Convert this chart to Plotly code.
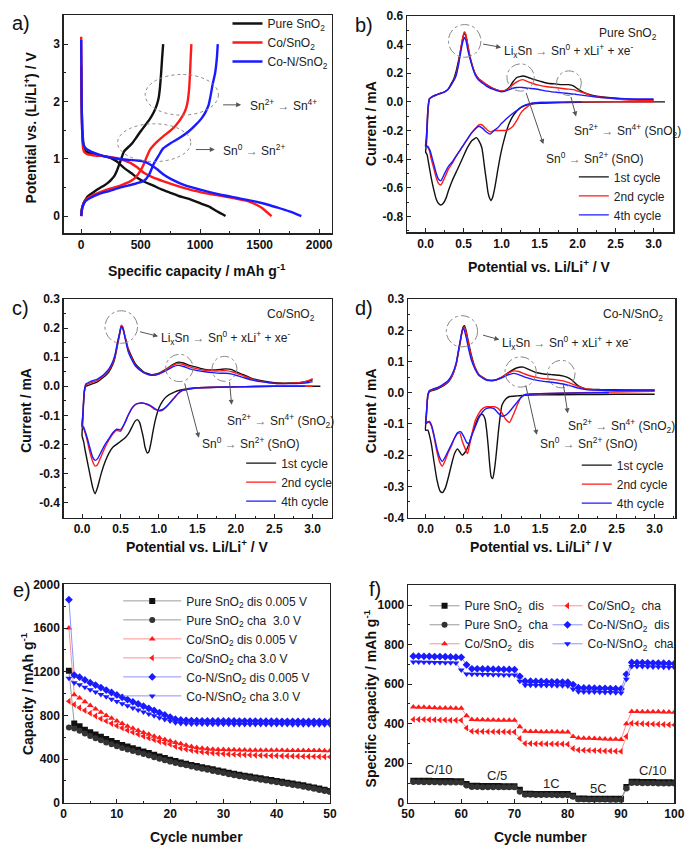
import plotly.graph_objects as go

W, H = 697, 857
FONT = "Arial, Liberation Sans, sans-serif"
BLK, RED, BLU = "#111111", "#ff1a1a", "#1a1aff"

# ---------------- panel a : charge/discharge profiles ----------------
a_names = ["Pure SnO<sub>2</sub>", "Co/SnO<sub>2</sub>", "Co-N/SnO<sub>2</sub>"]
a_pure_dis_cap = [0, 3, 10, 20, 33, 80, 150, 200, 250, 300, 360, 420, 470, 540, 607, 680, 743, 820, 907, 1016, 1080, 1126, 1180, 1213]
a_pure_dis_v = [2.62, 2.0, 1.5, 1.25, 1.14, 1.09, 1.06, 1.04, 1.01, 0.95, 0.84, 0.75, 0.67, 0.59, 0.53, 0.46, 0.41, 0.35, 0.30, 0.21, 0.16, 0.10, 0.04, 0.0]
a_pure_cha_cap = [0, 5, 19, 40, 60, 100, 142, 190, 224, 255, 279, 300, 320, 340, 361, 400, 429, 460, 497, 540, 579, 610, 634, 650, 661, 672, 680, 689]
a_pure_cha_v = [0.0, 0.12, 0.22, 0.30, 0.35, 0.41, 0.47, 0.53, 0.58, 0.64, 0.70, 0.79, 0.90, 1.02, 1.13, 1.21, 1.27, 1.36, 1.47, 1.59, 1.70, 1.81, 1.93, 2.05, 2.22, 2.5, 2.75, 3.0]
a_co_dis_cap = [0, 3, 8, 15, 25, 50, 100, 200, 300, 360, 420, 470, 530, 607, 700, 800, 900, 1016, 1150, 1290, 1400, 1460, 1520, 1560, 1600]
a_co_dis_v = [3.13, 2.2, 1.5, 1.2, 1.12, 1.08, 1.06, 1.04, 1.01, 0.97, 0.92, 0.85, 0.75, 0.67, 0.60, 0.53, 0.47, 0.41, 0.36, 0.31, 0.26, 0.21, 0.14, 0.07, 0.0]
a_co_cha_cap = [0, 10, 33, 70, 115, 200, 279, 350, 415, 460, 500, 525, 550, 579, 630, 689, 750, 798, 850, 880, 895, 907, 915, 920, 926]
a_co_cha_v = [0.0, 0.15, 0.27, 0.33, 0.38, 0.45, 0.50, 0.55, 0.61, 0.68, 0.80, 0.90, 1.03, 1.16, 1.28, 1.39, 1.49, 1.59, 1.74, 1.87, 2.0, 2.22, 2.5, 2.75, 3.0]
a_con_dis_cap = [0, 3, 8, 15, 25, 50, 87, 150, 200, 300, 400, 470, 530, 580, 630, 689, 760, 880, 1000, 1153, 1300, 1426, 1550, 1645, 1750, 1850]
a_con_dis_v = [3.07, 2.2, 1.5, 1.28, 1.22, 1.16, 1.12, 1.07, 1.04, 1.0, 0.98, 0.97, 0.95, 0.90, 0.83, 0.73, 0.64, 0.53, 0.46, 0.38, 0.32, 0.27, 0.21, 0.15, 0.08, 0.0]
a_con_cha_cap = [0, 10, 35, 80, 142, 240, 333, 430, 525, 570, 607, 650, 689, 750, 825, 900, 962, 1010, 1044, 1070, 1085, 1105, 1126, 1140, 1148]
a_con_cha_v = [0.0, 0.15, 0.26, 0.32, 0.38, 0.44, 0.50, 0.55, 0.61, 0.72, 0.90, 1.05, 1.18, 1.27, 1.36, 1.47, 1.59, 1.70, 1.81, 1.93, 2.07, 2.3, 2.5, 2.75, 3.0]

# ---------------- panel b : CV pure SnO2 ----------------
cv_names = ["1st cycle", "2nd cycle", "4th cycle"]
b1_v = [3.15, 2.5, 1.85, 1.5, 1.34, 1.25, 1.16, 1.1, 1.04, 0.99, 0.95, 0.91, 0.88, 0.86, 0.84, 0.82, 0.80, 0.78, 0.76, 0.74, 0.70, 0.67, 0.61, 0.55, 0.48, 0.42, 0.35, 0.30, 0.27, 0.23, 0.20, 0.17, 0.14, 0.11, 0.07, 0.04, 0.02, 0.0,
        0.01, 0.02, 0.03, 0.05, 0.1, 0.15, 0.2, 0.25, 0.3, 0.33, 0.37, 0.4, 0.43, 0.46, 0.49, 0.51, 0.53, 0.55, 0.57, 0.6, 0.65, 0.7, 0.75, 0.8, 0.9, 1.0, 1.05, 1.1, 1.15, 1.2, 1.28, 1.35, 1.4, 1.5, 1.6, 1.7, 1.8, 1.88, 1.95, 2.0, 2.1, 2.2, 2.4, 2.6, 2.8, 3.0]
b1_i = [0.0, 0.0, -0.005, -0.01, -0.02, -0.04, -0.09, -0.15, -0.25, -0.36, -0.475, -0.6, -0.67, -0.69, -0.67, -0.63, -0.55, -0.475, -0.39, -0.32, -0.27, -0.25, -0.27, -0.32, -0.4, -0.47, -0.55, -0.62, -0.67, -0.71, -0.72, -0.71, -0.68, -0.62, -0.52, -0.43, -0.37, -0.35,
        -0.3, -0.2, -0.08, 0.02, 0.04, 0.05, 0.06, 0.07, 0.09, 0.12, 0.16, 0.21, 0.28, 0.36, 0.45, 0.48, 0.46, 0.41, 0.35, 0.28, 0.2, 0.16, 0.14, 0.12, 0.09, 0.075, 0.08, 0.1, 0.14, 0.17, 0.18, 0.17, 0.16, 0.145, 0.13, 0.125, 0.12, 0.12, 0.11, 0.09, 0.06, 0.045, 0.03, 0.02, 0.015, 0.015]
b2_v = [3.0, 2.5, 2.0, 1.5, 1.4, 1.35, 1.3, 1.25, 1.2, 1.15, 1.1, 1.05, 1.0, 0.95, 0.9, 0.86, 0.82, 0.78, 0.74, 0.7, 0.65, 0.6, 0.55, 0.5, 0.45, 0.4, 0.35, 0.3, 0.25, 0.2, 0.17, 0.14, 0.1, 0.07, 0.05, 0.03, 0.0,
        0.01, 0.02, 0.03, 0.05, 0.1, 0.15, 0.2, 0.25, 0.3, 0.35, 0.4, 0.43, 0.46, 0.49, 0.51, 0.53, 0.56, 0.6, 0.65, 0.7, 0.75, 0.8, 0.9, 1.0, 1.05, 1.1, 1.15, 1.2, 1.28, 1.35, 1.4, 1.5, 1.6, 1.7, 1.85, 1.95, 2.0, 2.1, 2.2, 2.35, 2.5, 2.75, 3.0]
b2_i = [0.0, 0.0, 0.0, -0.005, -0.01, -0.03, -0.05, -0.08, -0.13, -0.17, -0.19, -0.2, -0.2, -0.2, -0.2, -0.21, -0.2, -0.18, -0.16, -0.16, -0.19, -0.22, -0.26, -0.3, -0.34, -0.38, -0.43, -0.47, -0.53, -0.58, -0.57, -0.53, -0.45, -0.39, -0.34, -0.32, -0.31,
        -0.25, -0.15, -0.05, 0.02, 0.04, 0.05, 0.06, 0.07, 0.09, 0.13, 0.19, 0.26, 0.36, 0.45, 0.49, 0.47, 0.38, 0.28, 0.2, 0.16, 0.14, 0.12, 0.09, 0.075, 0.08, 0.095, 0.12, 0.14, 0.155, 0.14, 0.13, 0.115, 0.105, 0.1, 0.09, 0.085, 0.075, 0.06, 0.04, 0.03, 0.02, 0.012, 0.01]
b4_v = [2.05, 1.8, 1.5, 1.4, 1.3, 1.25, 1.2, 1.15, 1.1, 1.05, 1.0, 0.95, 0.9, 0.85, 0.8, 0.75, 0.7, 0.65, 0.6, 0.55, 0.5, 0.45, 0.4, 0.35, 0.3, 0.25, 0.2, 0.17, 0.14, 0.1, 0.07, 0.05, 0.03, 0.0,
        0.01, 0.02, 0.03, 0.05, 0.1, 0.15, 0.2, 0.25, 0.3, 0.35, 0.4, 0.43, 0.46, 0.49, 0.51, 0.53, 0.56, 0.6, 0.65, 0.7, 0.75, 0.8, 0.9, 1.0, 1.05, 1.1, 1.15, 1.2, 1.28, 1.35, 1.45, 1.6, 1.75, 1.85, 2.0, 2.15, 2.3, 2.5, 2.75, 3.0]
b4_i = [0.0, -0.002, -0.005, -0.01, -0.025, -0.04, -0.06, -0.08, -0.1, -0.125, -0.15, -0.18, -0.2, -0.225, -0.21, -0.185, -0.17, -0.19, -0.22, -0.26, -0.3, -0.34, -0.38, -0.42, -0.45, -0.5, -0.55, -0.54, -0.5, -0.42, -0.36, -0.33, -0.31, -0.31,
        -0.25, -0.15, -0.05, 0.02, 0.04, 0.05, 0.06, 0.07, 0.09, 0.13, 0.18, 0.25, 0.34, 0.42, 0.45, 0.43, 0.35, 0.27, 0.19, 0.15, 0.13, 0.11, 0.085, 0.07, 0.075, 0.085, 0.095, 0.1, 0.1, 0.095, 0.09, 0.075, 0.065, 0.06, 0.05, 0.04, 0.03, 0.025, 0.02, 0.02]

# ---------------- panel c : CV Co/SnO2 ----------------
c1_v = [3.1, 2.5, 2.0, 1.5, 1.3, 1.2, 1.1, 1.05, 1.0, 0.95, 0.92, 0.9, 0.87, 0.85, 0.82, 0.8, 0.77, 0.75, 0.72, 0.69, 0.65, 0.6, 0.55, 0.5, 0.45, 0.4, 0.35, 0.3, 0.25, 0.2, 0.17, 0.14, 0.1, 0.07, 0.04, 0.02, 0.0,
        0.01, 0.02, 0.03, 0.05, 0.1, 0.15, 0.2, 0.25, 0.3, 0.35, 0.4, 0.43, 0.46, 0.49, 0.51, 0.53, 0.56, 0.6, 0.65, 0.7, 0.8, 0.9, 1.0, 1.1, 1.18, 1.25, 1.32, 1.4, 1.5, 1.6, 1.7, 1.8, 1.87, 1.95, 2.0, 2.1, 2.2, 2.35, 2.5, 2.7, 2.85, 2.95, 3.0]
c1_i = [0.0, 0.0, -0.002, -0.005, -0.012, -0.02, -0.035, -0.05, -0.075, -0.12, -0.16, -0.19, -0.225, -0.23, -0.21, -0.18, -0.145, -0.125, -0.115, -0.12, -0.14, -0.165, -0.18, -0.19, -0.2, -0.21, -0.23, -0.26, -0.3, -0.35, -0.37, -0.35, -0.3, -0.26, -0.22, -0.19, -0.17,
        -0.12, -0.06, -0.02, 0.0, 0.005, 0.01, 0.015, 0.025, 0.035, 0.05, 0.075, 0.1, 0.14, 0.18, 0.205, 0.2, 0.17, 0.13, 0.1, 0.075, 0.05, 0.04, 0.045, 0.06, 0.075, 0.083, 0.08, 0.072, 0.065, 0.058, 0.056, 0.058, 0.06, 0.057, 0.05, 0.04, 0.028, 0.018, 0.012, 0.011, 0.013, 0.018, 0.023]
c2_v = [3.0, 2.5, 2.0, 1.5, 1.3, 1.25, 1.2, 1.15, 1.1, 1.05, 1.0, 0.95, 0.9, 0.85, 0.8, 0.75, 0.7, 0.65, 0.6, 0.55, 0.5, 0.45, 0.4, 0.35, 0.3, 0.25, 0.2, 0.17, 0.14, 0.1, 0.07, 0.04, 0.02, 0.0,
        0.01, 0.02, 0.03, 0.05, 0.1, 0.15, 0.2, 0.25, 0.3, 0.35, 0.4, 0.43, 0.46, 0.49, 0.51, 0.53, 0.56, 0.6, 0.65, 0.7, 0.8, 0.9, 1.0, 1.1, 1.18, 1.25, 1.32, 1.4, 1.5, 1.6, 1.7, 1.8, 1.87, 1.95, 2.0, 2.1, 2.2, 2.35, 2.5, 2.7, 2.85, 2.95, 3.0]
c2_i = [0.0, 0.0, -0.002, -0.005, -0.015, -0.025, -0.04, -0.055, -0.07, -0.082, -0.085, -0.08, -0.07, -0.063, -0.058, -0.058, -0.062, -0.075, -0.1, -0.13, -0.155, -0.152, -0.165, -0.185, -0.21, -0.24, -0.27, -0.275, -0.26, -0.225, -0.19, -0.16, -0.145, -0.14,
        -0.1, -0.05, -0.015, 0.005, 0.01, 0.015, 0.02, 0.03, 0.04, 0.055, 0.08, 0.105, 0.145, 0.185, 0.21, 0.205, 0.17, 0.125, 0.095, 0.07, 0.048, 0.038, 0.043, 0.058, 0.072, 0.078, 0.075, 0.067, 0.06, 0.055, 0.053, 0.053, 0.054, 0.05, 0.045, 0.036, 0.025, 0.016, 0.01, 0.01, 0.013, 0.02, 0.026]
c4_v = [2.9, 2.5, 2.0, 1.5, 1.3, 1.25, 1.2, 1.15, 1.1, 1.05, 1.0, 0.95, 0.9, 0.85, 0.8, 0.75, 0.7, 0.65, 0.6, 0.55, 0.5, 0.45, 0.4, 0.35, 0.3, 0.25, 0.2, 0.17, 0.14, 0.1, 0.07, 0.04, 0.02, 0.0,
        0.01, 0.02, 0.03, 0.05, 0.1, 0.15, 0.2, 0.25, 0.3, 0.35, 0.4, 0.43, 0.46, 0.49, 0.51, 0.53, 0.56, 0.6, 0.65, 0.7, 0.8, 0.9, 1.0, 1.1, 1.18, 1.25, 1.32, 1.4, 1.5, 1.6, 1.7, 1.8, 1.87, 1.95, 2.0, 2.1, 2.2, 2.35, 2.5, 2.7, 2.85, 2.95, 3.0]
c4_i = [0.0, 0.0, -0.002, -0.005, -0.015, -0.025, -0.04, -0.055, -0.07, -0.08, -0.083, -0.078, -0.068, -0.062, -0.058, -0.058, -0.062, -0.075, -0.1, -0.13, -0.15, -0.148, -0.16, -0.18, -0.2, -0.225, -0.25, -0.255, -0.245, -0.21, -0.18, -0.155, -0.14, -0.135,
        -0.1, -0.05, -0.015, 0.008, 0.015, 0.02, 0.025, 0.033, 0.045, 0.06, 0.085, 0.11, 0.15, 0.185, 0.205, 0.2, 0.165, 0.12, 0.09, 0.068, 0.047, 0.038, 0.042, 0.055, 0.067, 0.072, 0.068, 0.06, 0.054, 0.05, 0.047, 0.045, 0.045, 0.042, 0.038, 0.03, 0.022, 0.015, 0.01, 0.009, 0.01, 0.013, 0.016]

# ---------------- panel d : CV Co-N/SnO2 ----------------
d1_v = [3.0, 2.5, 2.0, 1.5, 1.3, 1.2, 1.1, 1.05, 1.0, 0.98, 0.96, 0.94, 0.92, 0.9, 0.88, 0.86, 0.84, 0.82, 0.8, 0.78, 0.75, 0.72, 0.68, 0.64, 0.6, 0.56, 0.52, 0.48, 0.45, 0.42, 0.38, 0.34, 0.3, 0.26, 0.22, 0.19, 0.15, 0.11, 0.08, 0.05, 0.03, 0.0,
        0.01, 0.02, 0.03, 0.05, 0.1, 0.15, 0.2, 0.25, 0.3, 0.35, 0.4, 0.43, 0.46, 0.49, 0.51, 0.53, 0.56, 0.6, 0.65, 0.7, 0.8, 0.9, 1.0, 1.1, 1.2, 1.28, 1.35, 1.45, 1.55, 1.65, 1.75, 1.85, 1.92, 2.0, 2.1, 2.3, 2.6, 3.0]
d1_i = [-0.005, -0.005, -0.006, -0.007, -0.008, -0.01, -0.012, -0.02, -0.04, -0.07, -0.11, -0.16, -0.21, -0.25, -0.275, -0.27, -0.23, -0.17, -0.12, -0.085, -0.07, -0.07, -0.085, -0.11, -0.14, -0.17, -0.19, -0.2, -0.19, -0.18, -0.195, -0.23, -0.27, -0.305, -0.32, -0.315, -0.28, -0.22, -0.17, -0.135, -0.12, -0.12,
        -0.08, -0.04, -0.01, 0.003, 0.008, 0.012, 0.018, 0.025, 0.035, 0.055, 0.09, 0.13, 0.17, 0.21, 0.215, 0.2, 0.165, 0.12, 0.08, 0.058, 0.042, 0.04, 0.05, 0.067, 0.08, 0.082, 0.075, 0.065, 0.06, 0.058, 0.056, 0.05, 0.04, 0.022, 0.012, 0.01, 0.009, 0.008]
d2_v = [3.0, 2.5, 2.0, 1.5, 1.3, 1.25, 1.2, 1.15, 1.1, 1.05, 1.0, 0.95, 0.9, 0.85, 0.8, 0.75, 0.7, 0.65, 0.6, 0.57, 0.55, 0.52, 0.48, 0.45, 0.42, 0.38, 0.34, 0.3, 0.26, 0.22, 0.19, 0.15, 0.11, 0.08, 0.05, 0.03, 0.0,
        0.01, 0.02, 0.03, 0.05, 0.1, 0.15, 0.2, 0.25, 0.3, 0.35, 0.4, 0.43, 0.46, 0.49, 0.51, 0.53, 0.56, 0.6, 0.65, 0.7, 0.8, 0.9, 1.0, 1.08, 1.15, 1.22, 1.3, 1.4, 1.5, 1.6, 1.7, 1.8, 1.9, 2.0, 2.1, 2.3, 2.6, 3.0]
d2_i = [0.005, 0.002, 0.0, -0.003, -0.006, -0.015, -0.04, -0.07, -0.095, -0.085, -0.065, -0.05, -0.045, -0.045, -0.045, -0.05, -0.065, -0.09, -0.14, -0.175, -0.195, -0.18, -0.155, -0.13, -0.13, -0.145, -0.17, -0.19, -0.215, -0.235, -0.225, -0.19, -0.14, -0.11, -0.095, -0.095, -0.1,
        -0.07, -0.035, -0.008, 0.005, 0.01, 0.014, 0.02, 0.027, 0.037, 0.055, 0.09, 0.13, 0.17, 0.205, 0.21, 0.195, 0.16, 0.115, 0.08, 0.058, 0.042, 0.04, 0.05, 0.062, 0.07, 0.068, 0.06, 0.052, 0.047, 0.044, 0.042, 0.038, 0.03, 0.02, 0.012, 0.008, 0.006, 0.006]
d4_v = [2.4, 2.0, 1.5, 1.3, 1.25, 1.2, 1.15, 1.1, 1.05, 1.0, 0.95, 0.9, 0.85, 0.8, 0.75, 0.7, 0.65, 0.6, 0.57, 0.54, 0.5, 0.46, 0.42, 0.38, 0.34, 0.3, 0.26, 0.22, 0.19, 0.15, 0.11, 0.08, 0.05, 0.03, 0.0,
        0.01, 0.02, 0.03, 0.05, 0.1, 0.15, 0.2, 0.25, 0.3, 0.35, 0.4, 0.43, 0.46, 0.48, 0.5, 0.53, 0.56, 0.6, 0.65, 0.7, 0.8, 0.9, 1.0, 1.08, 1.15, 1.22, 1.3, 1.4, 1.5, 1.6, 1.7, 1.8, 1.9, 2.0, 2.1, 2.3, 2.6, 3.0]
d4_i = [0.0, -0.001, -0.003, -0.006, -0.015, -0.03, -0.045, -0.06, -0.072, -0.075, -0.065, -0.052, -0.048, -0.05, -0.06, -0.08, -0.11, -0.14, -0.162, -0.16, -0.14, -0.125, -0.128, -0.145, -0.165, -0.185, -0.205, -0.22, -0.21, -0.18, -0.135, -0.105, -0.092, -0.093, -0.1,
        -0.07, -0.035, -0.008, 0.007, 0.012, 0.016, 0.022, 0.03, 0.04, 0.06, 0.095, 0.135, 0.175, 0.2, 0.205, 0.18, 0.145, 0.105, 0.075, 0.055, 0.04, 0.04, 0.048, 0.057, 0.062, 0.058, 0.05, 0.043, 0.038, 0.035, 0.032, 0.028, 0.022, 0.015, 0.01, 0.008, 0.008, 0.009]

# ---------------- panel e : cycling ----------------
e_cycles = list(range(1, 51))
e_names = ["Pure SnO<sub>2</sub> dis 0.005 V", "Pure SnO<sub>2</sub> cha  3.0 V", "Co/SnO<sub>2</sub> dis 0.005 V",
           "Co/SnO<sub>2</sub> cha 3.0 V", "Co-N/SnO<sub>2</sub> dis 0.005 V", "Co-N/SnO<sub>2</sub> cha 3.0 V"]
e_pure_dis = [1210, 725, 700, 670, 645, 625, 605, 585, 565, 548, 530, 515, 500, 485, 470, 455, 440, 425, 410, 395, 382, 370, 358, 346, 336, 326, 316, 306, 296, 286, 276, 266, 257, 248, 240, 232, 224, 216, 208, 200, 192, 184, 176, 168, 160, 150, 140, 130, 120, 108]
e_pure_cha = [690, 680, 660, 635, 612, 592, 572, 553, 535, 518, 502, 488, 474, 460, 446, 432, 418, 404, 390, 377, 365, 354, 343, 332, 322, 312, 302, 292, 282, 272, 262, 253, 244, 235, 227, 219, 211, 203, 195, 187, 179, 171, 163, 155, 147, 138, 128, 118, 108, 98]
e_co_dis = [1600, 990, 960, 925, 890, 860, 830, 800, 775, 750, 725, 702, 682, 662, 644, 627, 610, 595, 580, 566, 552, 540, 528, 516, 506, 499, 494, 491, 489, 487, 486, 485, 484, 483, 482, 482, 481, 481, 480, 480, 480, 479, 479, 479, 478, 478, 478, 478, 477, 477]
e_co_cha = [930, 900, 870, 845, 820, 795, 770, 748, 726, 705, 685, 665, 645, 627, 610, 593, 577, 562, 548, 535, 515, 500, 490, 480, 472, 465, 460, 455, 451, 448, 445, 443, 441, 439, 437, 435, 434, 432, 431, 430, 429, 428, 427, 426, 425, 424, 423, 422, 421, 420]
e_con_dis = [1860, 1170, 1150, 1125, 1100, 1078, 1055, 1032, 1010, 988, 966, 945, 925, 905, 885, 865, 845, 825, 805, 785, 765, 758, 755, 753, 752, 751, 750, 750, 750, 749, 749, 749, 748, 748, 748, 748, 747, 747, 747, 747, 746, 746, 746, 746, 745, 745, 745, 745, 744, 744]
e_con_cha = [1140, 1100, 1080, 1058, 1036, 1014, 992, 970, 948, 928, 908, 888, 868, 850, 832, 814, 796, 778, 762, 748, 732, 725, 723, 722, 721, 721, 720, 720, 719, 719, 719, 718, 718, 718, 717, 717, 717, 717, 716, 716, 716, 716, 715, 715, 715, 715, 714, 714, 714, 714]

# ---------------- panel f : rate capability ----------------
f_cycles = list(range(51, 101))
f_names = ["Pure SnO<sub>2</sub>  dis", "Pure SnO<sub>2</sub>  cha", "Co/SnO<sub>2</sub>  dis",
           "Co/SnO<sub>2</sub>  cha", "Co-N/SnO<sub>2</sub>  dis", "Co-N/SnO<sub>2</sub>  cha"]
f_pure_dis = [112, 112, 111, 111, 110, 110, 110, 110, 109, 109, 95, 86, 86, 85, 85, 85, 85, 84, 84, 84, 66, 46, 46, 45, 45, 45, 45, 44, 44, 44, 35, 22, 22, 21, 21, 21, 20, 20, 20, 20, 80, 106, 106, 105, 105, 105, 104, 104, 104, 103]
f_pure_cha = [105, 105, 104, 104, 104, 103, 103, 103, 102, 102, 88, 80, 80, 79, 79, 79, 79, 78, 78, 78, 56, 40, 40, 39, 39, 39, 39, 38, 38, 38, 30, 16, 16, 15, 15, 15, 15, 14, 14, 14, 72, 100, 100, 99, 99, 99, 98, 98, 98, 97]
f_co_dis = [485, 484, 483, 482, 481, 480, 480, 479, 478, 478, 440, 421, 420, 420, 419, 419, 418, 418, 417, 417, 385, 362, 361, 361, 360, 360, 359, 359, 358, 358, 335, 328, 327, 326, 325, 324, 323, 322, 321, 320, 400, 462, 462, 461, 461, 460, 460, 459, 459, 458]
f_co_cha = [422, 421, 421, 420, 420, 419, 419, 418, 418, 417, 378, 362, 361, 361, 360, 360, 359, 359, 358, 358, 325, 300, 300, 299, 299, 298, 298, 297, 297, 296, 275, 267, 266, 265, 264, 263, 262, 262, 261, 260, 335, 402, 401, 400, 399, 398, 397, 396, 395, 394]
f_con_dis = [742, 742, 741, 741, 740, 740, 739, 738, 737, 736, 698, 678, 678, 677, 677, 676, 676, 675, 675, 674, 640, 615, 615, 614, 614, 613, 612, 612, 611, 610, 598, 582, 581, 581, 580, 579, 579, 578, 577, 576, 650, 710, 709, 709, 708, 707, 707, 706, 705, 704]
f_con_cha = [712, 712, 711, 711, 710, 710, 709, 708, 707, 672, 652, 650, 650, 649, 649, 648, 648, 647, 647, 646, 615, 595, 595, 594, 594, 593, 593, 592, 592, 591, 575, 562, 561, 560, 560, 559, 558, 558, 557, 556, 625, 690, 689, 689, 688, 687, 687, 686, 685, 684]
f_rate_labels = ["C/10", "C/5", "1C", "5C", "C/10"]
f_rate_x = [55.8, 66.8, 76.9, 85.8, 95.9]
f_rate_y = [168, 140, 98, 72, 165]

# tick labels
b_yticks = [-0.8, -0.6, -0.4, -0.2, 0.0, 0.2, 0.4, 0.6]
b_yticktext = ["-0.8", "-0.6", "-0.4", "-0.2", "0.0", "0.2", "0.4", "0.6"]
cd_yticks = [-0.4, -0.3, -0.2, -0.1, 0.0, 0.1, 0.2, 0.3]
cd_yticktext = ["-0.4", "-0.3", "-0.2", "-0.1", "0.0", "0.1", "0.2", "0.3"]
cv_xticks = [0.0, 0.5, 1.0, 1.5, 2.0, 2.5, 3.0]
cv_xticktext = ["0.0", "0.5", "1.0", "1.5", "2.0", "2.5", "3.0"]

# ======================================================================
def dx(p):
    return p / W


def dy(p):
    return 1 - p / H


fig = go.Figure()

# panel a
for (cx, vy, cx2, vy2, col, nm) in [
    (a_pure_dis_cap, a_pure_dis_v, a_pure_cha_cap, a_pure_cha_v, BLK, a_names[0]),
    (a_co_dis_cap, a_co_dis_v, a_co_cha_cap, a_co_cha_v, RED, a_names[1]),
    (a_con_dis_cap, a_con_dis_v, a_con_cha_cap, a_con_cha_v, BLU, a_names[2]),
]:
    fig.add_trace(go.Scatter(x=cx, y=vy, mode="lines", line=dict(color=col, width=2.4, shape="spline", smoothing=0.6),
                             name=nm, legend="legend", xaxis="x", yaxis="y"))
    fig.add_trace(go.Scatter(x=cx2, y=vy2, mode="lines", line=dict(color=col, width=2.4, shape="spline", smoothing=0.6),
                             showlegend=False, xaxis="x", yaxis="y"))

# CV panels
for (xa, ya, leg, series) in [
    ("x2", "y2", "legend2", [(b1_v, b1_i), (b2_v, b2_i), (b4_v, b4_i)]),
    ("x3", "y3", "legend3", [(c1_v, c1_i), (c2_v, c2_i), (c4_v, c4_i)]),
    ("x4", "y4", "legend4", [(d1_v, d1_i), (d2_v, d2_i), (d4_v, d4_i)]),
]:
    for (vv, ii), col, nm in zip(series, [BLK, RED, BLU], cv_names):
        fig.add_trace(go.Scatter(x=vv, y=ii, mode="lines", line=dict(color=col, width=1.4, shape="spline", smoothing=0.5),
                                 name=nm, legend=leg, xaxis=xa, yaxis=ya))

# marker styles for e & f
styles = [
    dict(symbol="square", color="#111111", lc="#9a9a9a"),
    dict(symbol="circle", color="#333333", lc="#9a9a9a"),
    dict(symbol="triangle-up", color=RED, lc="#ff9090"),
    dict(symbol="triangle-left", color=RED, lc="#ff9090"),
    dict(symbol="diamond", color=BLU, lc="#9090ff"),
    dict(symbol="triangle-down", color=BLU, lc="#9090ff"),
]
for vals, st, nm in zip([e_pure_dis, e_pure_cha, e_co_dis, e_co_cha, e_con_dis, e_con_cha], styles, e_names):
    fig.add_trace(go.Scatter(x=e_cycles, y=vals, mode="lines+markers", name=nm, legend="legend5",
                             line=dict(color=st["lc"], width=1),
                             marker=dict(symbol=st["symbol"], color=st["color"], size=6, line=dict(width=0)),
                             xaxis="x5", yaxis="y5"))
for k, (vals, st, nm) in enumerate(zip([f_pure_dis, f_pure_cha, f_co_dis, f_co_cha, f_con_dis, f_con_cha], styles, f_names)):
    fig.add_trace(go.Scatter(x=f_cycles, y=vals, mode="lines+markers", name=nm,
                             legend="legend6" if k in (0, 1, 2) else "legend7",
                             line=dict(color=st["lc"], width=1),
                             marker=dict(symbol=st["symbol"], color=st["color"], size=6, line=dict(width=0)),
                             xaxis="x6", yaxis="y6"))

TICKFONT = dict(family=FONT, size=12, color="#111", weight="bold")


def ax(domain, rng, anchor, **kw):
    d = dict(domain=domain, range=rng, anchor=anchor, showline=True, linecolor="#222", linewidth=1.3, mirror=True,
             ticks="inside", ticklen=4, tickwidth=1, tickcolor="#222", showgrid=False, zeroline=False,
             tickfont=TICKFONT, layer="above traces")
    d.update(kw)
    return d


def minor(dt, t0=0):
    return dict(ticks="inside", ticklen=2, tickcolor="#222", dtick=dt, tick0=t0, showgrid=False)


layout = dict(
    width=W, height=H, margin=dict(l=0, r=0, t=0, b=0),
    paper_bgcolor="white", plot_bgcolor="white",
    font=dict(family=FONT, size=12, color="#111"),
    xaxis=ax([dx(58), dx(333)], [-148, 2107], "y", dtick=500, minor=minor(250)),
    yaxis=ax([dy(230), dy(8)], [-0.30, 3.51], "x", dtick=1, minor=minor(0.5)),
    xaxis2=ax([dx(410), dx(683)], [-0.245, 3.26], "y2", tickvals=cv_xticks, ticktext=cv_xticktext, minor=minor(0.25)),
    yaxis2=ax([dy(229), dy(9)], [-0.91, 0.6], "x2", tickvals=b_yticks, ticktext=b_yticktext, minor=minor(0.1)),
    xaxis3=ax([dx(58), dx(333)], [-0.24, 3.25], "y3", tickvals=cv_xticks, ticktext=cv_xticktext, minor=minor(0.25)),
    yaxis3=ax([dy(519), dy(297)], [-0.452, 0.3], "x3", tickvals=cd_yticks, ticktext=cd_yticktext, minor=minor(0.05)),
    xaxis4=ax([dx(411), dx(685)], [-0.23, 3.27], "y4", tickvals=cv_xticks, ticktext=cv_xticktext, minor=minor(0.25)),
    yaxis4=ax([dy(519), dy(297)], [-0.4, 0.3], "x4", tickvals=cd_yticks, ticktext=cd_yticktext, minor=minor(0.05)),
    xaxis5=ax([dx(58), dx(331)], [0, 50], "y5", dtick=10, minor=minor(5)),
    yaxis5=ax([dy(809), dy(587)], [0, 2000], "x5", dtick=400, minor=minor(200)),
    xaxis6=ax([dx(411), dx(684)], [50, 100], "y6", dtick=10, minor=minor(5)),
    yaxis6=ax([dy(809), dy(588)], [0, 1100], "x6", dtick=200, minor=minor(100)),
    showlegend=True,
)

LEGFONT = dict(family=FONT, size=12, color="#222")


def leg(xp, yp, itemwidth=30):
    return dict(x=dx(xp), y=dy(yp), xanchor="left", yanchor="top", bgcolor="rgba(0,0,0,0)", borderwidth=0,
                font=LEGFONT, tracegroupgap=0, itemwidth=itemwidth, itemclick=False, itemdoubleclick=False)


layout["legend"] = leg(226, 2)
layout["legend2"] = leg(581, 158)
layout["legend3"] = leg(240, 449)
layout["legend4"] = leg(584, 451)
layout["legend5"] = leg(114, 589, itemwidth=58)
layout["legend6"] = leg(428, 594)
layout["legend7"] = leg(554, 594)
fig.update_layout(**layout)

shapes = []
annotations = []
GRAY = "#888888"
ARR = "#555555"


def ellipse(xr, yr, x0, x1, y0, y1, dash):
    shapes.append(dict(type="circle", xref=xr, yref=yr, x0=x0, x1=x1, y0=y0, y1=y1,
                       line=dict(color=GRAY, width=1, dash=dash), layer="above"))


def arrow(xr, yr, tx, ty, hx, hy):
    annotations.append(dict(xref=xr, yref=yr, axref=xr, ayref=yr, x=hx, y=hy, ax=tx, ay=ty, text="",
                            showarrow=True, arrowhead=2, arrowsize=1, arrowwidth=1, arrowcolor=ARR))


def label(xr, yr, x, y, text, xanchor="left", size=12):
    annotations.append(dict(xref=xr, yref=yr, x=x, y=y, text=text, showarrow=False, xanchor=xanchor,
                            yanchor="middle", font=dict(family=FONT, size=size, color="#222")))


AR = " <span style='color:#777'>→</span> "
# panel a annotations
ellipse("x", "y", 538, 1153, 1.76, 2.47, "dot")
ellipse("x", "y", 306, 921, 0.95, 1.61, "dot")
arrow("x", "y", 1180, 1.94, 1344, 1.94)
arrow("x", "y", 951, 1.16, 1123, 1.16)
label("x", "y", 1400, 1.94, "Sn<sup>2+</sup>" + AR + "Sn<sup>4+</sup>")
label("x", "y", 1175, 1.16, "Sn<sup>0</sup>" + AR + "Sn<sup>2+</sup>")

# panel b annotations
ellipse("x2", "y2", 0.30, 0.728, 0.311, 0.539, "dashdot")
ellipse("x2", "y2", 1.07, 1.43, 0.075, 0.265, "dashdot")
ellipse("x2", "y2", 1.723, 2.049, 0.044, 0.216, "dashdot")
arrow("x2", "y2", 0.737, 0.405, 0.994, 0.38)
arrow("x2", "y2", 1.907, 0.045, 1.98, -0.102)
arrow("x2", "y2", 1.316, 0.073, 1.55, -0.295)
label("x2", "y2", 1.0, 0.355, "Li<sub>x</sub>Sn" + AR + "Sn<sup>0</sup> + xLi<sup>+</sup> + xe<sup>-</sup>")
label("x2", "y2", 1.92, -0.2, "Sn<sup>2+</sup>" + AR + "Sn<sup>4+</sup> (SnO<sub>2</sub>)")
label("x2", "y2", 1.56, -0.39, "Sn<sup>0</sup>" + AR + "Sn<sup>2+</sup> (SnO)")
label("x2", "y2", 3.07, 0.47, "Pure SnO<sub>2</sub>", xanchor="right")

# panel c annotations
ellipse("x3", "y3", 0.298, 0.722, 0.148, 0.26, "dashdot")
ellipse("x3", "y3", 1.088, 1.444, 0.016, 0.11, "dashdot")
ellipse("x3", "y3", 1.691, 2.015, 0.017, 0.103, "dashdot")
arrow("x3", "y3", 0.735, 0.189, 0.99, 0.172)
arrow("x3", "y3", 1.917, 0.02, 1.946, -0.064)
arrow("x3", "y3", 1.33, 0.015, 1.52, -0.177)
label("x3", "y3", 1.0, 0.167, "Li<sub>x</sub>Sn" + AR + "Sn<sup>0</sup> + xLi<sup>+</sup> + xe<sup>-</sup>")
label("x3", "y3", 1.86, -0.121, "Sn<sup>2+</sup>" + AR + "Sn<sup>4+</sup> (SnO<sub>2</sub>)")
label("x3", "y3", 1.53, -0.194, "Sn<sup>0</sup>" + AR + "Sn<sup>2+</sup> (SnO)")
label("x3", "y3", 3.05, 0.246, "Co/SnO<sub>2</sub>", xanchor="right")

# panel d annotations
ellipse("x4", "y4", 0.272, 0.682, 0.147, 0.247, "dashdot")
ellipse("x4", "y4", 1.04, 1.45, 0.018, 0.115, "dashdot")
ellipse("x4", "y4", 1.597, 1.957, 0.016, 0.104, "dashdot")
arrow("x4", "y4", 0.733, 0.186, 0.967, 0.17)
arrow("x4", "y4", 1.8, 0.034, 1.862, -0.066)
arrow("x4", "y4", 1.308, 0.028, 1.457, -0.135)
label("x4", "y4", 0.98, 0.16, "Li<sub>x</sub>Sn" + AR + "Sn<sup>0</sup> + xLi<sup>+</sup> + xe<sup>-</sup>")
label("x4", "y4", 1.84, -0.108, "Sn<sup>2+</sup>" + AR + "Sn<sup>4+</sup> (SnO<sub>2</sub>)")
label("x4", "y4", 1.47, -0.161, "Sn<sup>0</sup>" + AR + "Sn<sup>2+</sup> (SnO)")
label("x4", "y4", 3.14, 0.249, "Co-N/SnO<sub>2</sub>", xanchor="right")

# panel f rate labels
for t, xx, yy in zip(f_rate_labels, f_rate_x, f_rate_y):
    annotations.append(dict(xref="x6", yref="y6", x=xx, y=yy, text=t, showarrow=False,
                            font=dict(family=FONT, size=13, color="#222")))

# axis titles (paper coords)
TF = dict(family=FONT, size=14, color="#111", weight="bold")


def ptxt(x, y, text, angle=0, size=None, bold=True):
    f = dict(TF)
    if size:
        f["size"] = size
    if not bold:
        f["weight"] = "normal"
    annotations.append(dict(xref="paper", yref="paper", x=dx(x), y=dy(y), text=text, showarrow=False,
                            textangle=angle, font=f, xanchor="center", yanchor="middle"))


ptxt(195, 267, "Specific capacity / mAh g<sup>-1</sup>")
ptxt(24, 122, "Potential vs. (Li/Li<sup>+</sup>) / V", angle=-90)
ptxt(546, 263, "Potential vs. Li/Li<sup>+</sup> / V")
ptxt(373, 118, "Current / mA", angle=-90)
ptxt(195, 548, "Potential vs. Li/Li<sup>+</sup> / V")
ptxt(20, 410, "Current / mA", angle=-90)
ptxt(548, 548, "Potential vs. Li/Li<sup>+</sup> / V")
ptxt(373, 410, "Current / mA", angle=-90)
ptxt(194, 844, "Cycle number")
ptxt(20, 698, "Capacity / mAh g<sup>-1</sup>", angle=-90)
ptxt(547, 844, "Cycle number")
ptxt(372, 703, "Specific capacity / mAh g<sup>-1</sup>", angle=-90)

# panel letters
for t, x, y in [("a)", 14, 16), ("b)", 366, 18), ("c)", 14, 306), ("d)", 366, 306), ("e)", 15, 593), ("f)", 377, 592)]:
    ptxt(x, y, t, size=20, bold=False)

fig.update_layout(shapes=shapes, annotations=annotations)
fig.write_html("out.html", config={"displayModeBar": False, "staticPlot": True},
               post_script="document.body.style.margin='0';document.body.style.overflow='hidden';")
